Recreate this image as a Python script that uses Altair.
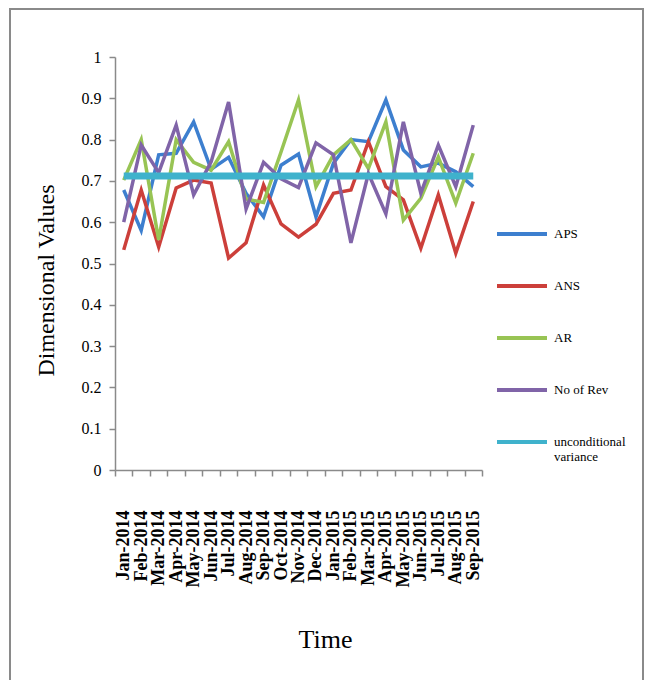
import altair as alt
import pandas as pd

# Monthly series, Jan-2014 .. Sep-2015
months = [
    "Jan-2014", "Feb-2014", "Mar-2014", "Apr-2014", "May-2014", "Jun-2014",
    "Jul-2014", "Aug-2014", "Sep-2014", "Oct-2014", "Nov-2014", "Dec-2014",
    "Jan-2015", "Feb-2015", "Mar-2015", "Apr-2015", "May-2015", "Jun-2015",
    "Jul-2015", "Aug-2015", "Sep-2015",
]
aps = [0.678, 0.580, 0.763, 0.767, 0.843, 0.728, 0.757, 0.670, 0.613, 0.738, 0.765,
       0.613, 0.743, 0.800, 0.795, 0.896, 0.775, 0.734, 0.743, 0.722, 0.686]
ans = [0.533, 0.678, 0.540, 0.683, 0.702, 0.695, 0.513, 0.550, 0.690, 0.596, 0.564,
       0.595, 0.670, 0.678, 0.795, 0.686, 0.654, 0.537, 0.666, 0.525, 0.650]
ar = [0.702, 0.800, 0.557, 0.800, 0.745, 0.726, 0.795, 0.656, 0.648, 0.770, 0.896,
      0.686, 0.763, 0.800, 0.730, 0.843, 0.605, 0.658, 0.758, 0.646, 0.767]
no_of_rev = [0.600, 0.787, 0.720, 0.835, 0.666, 0.746, 0.891, 0.632, 0.745, 0.705, 0.684,
             0.792, 0.763, 0.550, 0.718, 0.620, 0.843, 0.670, 0.787, 0.686, 0.835]
uncond_var = [0.712] * len(months)

series_names = ["APS", "ANS", "AR", "No of Rev", "unconditional variance"]
series_values = [aps, ans, ar, no_of_rev, uncond_var]
series_colors = ["#3d7fcf", "#cc3f3a", "#98c454", "#8064a8", "#3fb2cc"]
y_ticks = [0, 0.1, 0.2, 0.3, 0.4, 0.5, 0.6, 0.7, 0.8, 0.9, 1]

rows = []
for name, vals in zip(series_names, series_values):
    for m, v in zip(months, vals):
        rows.append({"Time": m, "Value": v, "Series": name})
df = pd.DataFrame(rows)

SERIF = "Liberation Serif"

x_enc = alt.X(
    "Time:N",
    sort=months,
    scale=alt.Scale(type="band", domain=months, paddingInner=0, paddingOuter=0),
    axis=alt.Axis(
        title="Time",
        labelAngle=270,
        labelFontSize=18,
        labelFontWeight="bold",
        labelPadding=34,
        labelOverlap=False,
        labelFlush=False,
        tickSize=6,
        tickBand="extent",
        titleFontSize=26,
        titleX=210,
        titleY=177,
        titleBaseline="alphabetic",
    ),
)
y_enc = alt.Y(
    "Value:Q",
    scale=alt.Scale(domain=[0, 1]),
    axis=alt.Axis(
        title="Dimensional Values",
        values=y_ticks,
        format=".1~f",
        labelFontSize=16,
        labelPadding=8,
        tickSize=6,
        titleFontSize=24,
        titleAngle=270,
        titleBaseline="alphabetic",
        titleX=-62,
        titleY=223,
    ),
)
color_enc = alt.Color(
    "Series:N",
    scale=alt.Scale(domain=series_names, range=series_colors),
    legend=alt.Legend(
        title=None,
        orient="none",
        legendX=380,
        legendY=150,
        symbolType="stroke",
        symbolSize=2500,
        symbolStrokeWidth=4,
        labelFont=SERIF,
        labelFontSize=13,
        labelColor="black",
        labelOffset=5,
        labelLimit=200,
        rowPadding=17,
        labelExpr="datum.label == 'unconditional variance' ? ['unconditional', 'variance'] : datum.label",
    ),
)

base = alt.Chart(df)

# Outer frame around the whole figure
frame = alt.Chart(pd.DataFrame({"k": [0]})).mark_rect(
    fill=None, stroke="#8a8a8a", strokeWidth=2
).encode(
    x=alt.value(-105), x2=alt.value(528), y=alt.value(-48), y2=alt.value(640)
)

layers = [frame]
for name in series_names:
    width = 7 if name == "unconditional variance" else 3.5
    layers.append(
        base.transform_filter(alt.datum.Series == name)
        .mark_line(strokeWidth=width, strokeJoin="miter")
        .encode(x=x_enc, y=y_enc, color=color_enc)
    )

chart = (
    alt.layer(*layers)
    .properties(
        width=367,
        height=413,
        autosize=alt.AutoSizeParams(type="none"),
        padding={"left": 115, "top": 57, "right": 166, "bottom": 210},
        background="white",
    )
    .configure_view(stroke=None)
    .configure_axis(
        grid=False,
        domainColor="#8a8a8a",
        domainWidth=1.5,
        tickColor="#8a8a8a",
        tickWidth=1.5,
        labelFont=SERIF,
        titleFont=SERIF,
        labelColor="black",
        titleColor="black",
        titleFontWeight="normal",
    )
)

chart.save("out.html", embed_options={"renderer": "svg", "actions": False})
